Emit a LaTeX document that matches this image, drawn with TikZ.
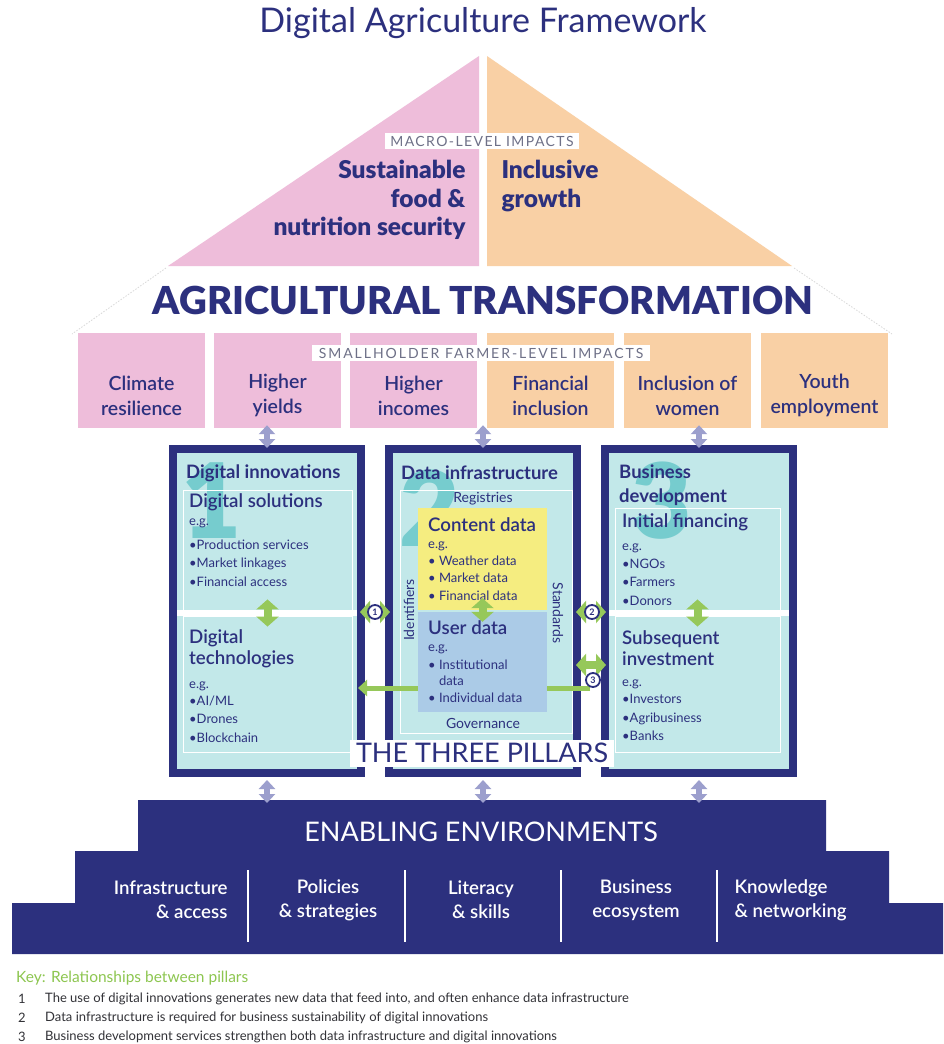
\documentclass[tikz,border=0pt]{standalone}
\usepackage{fontspec}
\setmainfont{Lato}
\newfontfamily\latoblack{Lato Black}
\newfontfamily\latosemi{Lato Semibold}
\usetikzlibrary{positioning, arrows.meta}

\definecolor{navy}{RGB}{44,48,126}
\definecolor{pinkroof}{RGB}{238,189,218}
\definecolor{peach}{RGB}{249,208,165}
\definecolor{pillarfill}{RGB}{194,232,233}
\definecolor{numeral}{RGB}{118,204,206}
\definecolor{contentyel}{RGB}{245,237,128}
\definecolor{userblue}{RGB}{171,203,231}
\definecolor{arrowgreen}{RGB}{150,200,90}
\definecolor{lavender}{RGB}{156,159,205}
\definecolor{keygreen}{RGB}{141,198,80}
\definecolor{labelgray}{RGB}{110,112,135}
\definecolor{keygray}{RGB}{50,50,55}

\newcommand\fsz[2]{\fontsize{#1}{#2}\selectfont}

\begin{document}
\begin{tikzpicture}[x=1pt, y=-1pt,
  impact/.style={minimum width=127, minimum height=95, inner sep=0},
  impacttxt/.style={align=center, text=navy, font=\latosemi\fsz{19.5}{25}},
  pillar/.style={draw=navy, line width=8pt, fill=pillarfill, minimum width=188, minimum height=324, inner sep=0},
  panel/.style={draw=white, line width=0.9pt, inner sep=0},
  numbig/.style={text=numeral, font=\latoblack\fsz{104}{104}, inner sep=0},
  ptitle/.style={anchor=west, align=left, text=navy, font=\bfseries\fsz{18.5}{24}, inner sep=0},
  psub/.style={anchor=west, align=left, text=navy, font=\latosemi\fsz{18.7}{21}, inner sep=0},
  peg/.style={anchor=west, text=navy, font=\fsz{13}{15}, inner sep=0},
  plist/.style={anchor=west, align=left, text=navy, font=\fsz{13}{18.5}, inner sep=0},
  pside/.style={text=navy, font=\fsz{14}{16}, inner sep=0},
  envtxt/.style={align=center, text=white, font=\latosemi\fsz{18.7}{24}},
  keytxt/.style={anchor=west, text=keygray, font=\fsz{13}{14}, inner sep=0},
  lavarrow/.style={lavender, line width=6pt, {Triangle[length=9pt,width=16pt]}-{Triangle[length=9pt,width=16pt]}},
  greenarrow/.style={arrowgreen, line width=8pt, {Triangle[length=10pt,width=22pt]}-{Triangle[length=10pt,width=22pt]}},
  greenline/.style={arrowgreen, line width=5pt, -{Triangle[length=9pt,width=16pt]}},
  circnum/.style={circle, draw=navy, line width=1.8pt, fill=white, inner sep=0, minimum size=14, text=navy, font=\bfseries\fsz{9}{9}}]

\useasboundingbox[fill=white] (0,0) rectangle (943,1044);

\node[text=navy, font=\fsz{34}{38}] (title) at (483,23) {Digital Agriculture Framework};

\fill[pinkroof] (479,56) -- (168,266) -- (479,266) -- cycle;
\fill[peach] (487,56) -- (792,266) -- (487,266) -- cycle;
\draw[gray!30, line width=0.8pt, dash pattern=on 1.5pt off 1.5pt] (166,268) -- (72,334) (794,268) -- (892,334);

\node[fill=white, text=labelgray, font=\fsz{14}{16}\addfontfeature{LetterSpace=10}, inner xsep=5, inner ysep=3] (macrolabel) at (482,141) {MACRO-LEVEL IMPACTS};
\node[anchor=east, align=right, text=navy, font=\latoblack\fsz{24.5}{28.5}] (foodsec) at (469,200) {Sustainable\\food \&\\nutrition security};
\node[anchor=west, align=left, text=navy, font=\latoblack\fsz{24.5}{28.5}] (growth) at (498,186) {Inclusive\\growth};

\node[text=navy, font=\latoblack\fsz{38.5}{42}] (agtrans) at (483,300) {AGRICULTURAL TRANSFORMATION};

\foreach \nm/\xx/\col/\txt in {climate/141.5/pinkroof/{Climate\\resilience}, yields/277.5/pinkroof/{Higher\\yields}, incomes/413.5/pinkroof/{Higher\\incomes}, finance/550.5/peach/{Financial\\inclusion}, women/687.5/peach/{Inclusion of\\women}, youth/824.5/peach/{Youth\\employment}}{
  \node[impact, fill=\col] (\nm) at (\xx,380.5) {};
  \node[impacttxt] (\nm txt) at ([yshift=-15pt]\nm.center) {\txt};
}
\node[fill=white, text=labelgray, font=\fsz{14}{16}\addfontfeature{LetterSpace=14}, inner xsep=7, inner ysep=3] (farmlabel) at (481,353) {SMALLHOLDER FARMER-LEVEL IMPACTS};

\node[pillar] (p1) at (267,611) {};
\node[pillar] (p2) at (483,611) {};
\node[pillar] (p3) at (699,611) {};

\node[numbig] (num1) at (212,501) {1};
\node[numbig] (num2) at (430,508) {2};
\node[numbig] (num3) at (662,501) {3};

\fill[white] (177,610) rectangle (357,616);
\fill[white] (609,610) rectangle (789,616);
\node[panel, minimum width=169, minimum height=120] (solutions) at (267.5,550) {};
\node[panel, minimum width=169, minimum height=136] (techs) at (267.5,684) {};
\node[panel, minimum width=165, minimum height=102] (initial) at (697.5,559) {};
\node[panel, minimum width=165, minimum height=136] (invest) at (697.5,684) {};
\node[panel, minimum width=172, minimum height=243] (datapanel) at (486,611.5) {};

\coordinate (from3) at (590,688);
\coordinate (tip3) at (358,688);
\draw[greenline] (from3) -- (tip3);

\node[fill=contentyel, minimum width=129, minimum height=102, inner sep=0] (content) at (482.5,559) {};
\node[fill=userblue, minimum width=129, minimum height=100, inner sep=0] (user) at (482.5,662) {};

\node[ptitle] (innovtitle) at (186,473) {Digital innovations};
\node[psub] (soltitle) at (189,502) {Digital solutions};
\node[peg] (soleg) at (189,523) {e.g.};
\node[plist] (sollist) at (189,563) {•Production services\\•Market linkages\\•Financial access};
\node[psub] (techtitle) at (189,649) {Digital\\technologies};
\node[peg] (techeg) at (189,686) {e.g.};
\node[plist] (techlist) at (189,719) {•AI/ML\\•Drones\\•Blockchain};

\node[ptitle] (datatitle) at (401,473) {Data infrastructure};
\node[pside] (registries) at (483,499) {Registries};
\node[psub] (contenttitle) at (428,525) {Content data};
\node[peg] (contenteg) at (428,546) {e.g.};
\node[plist, font=\fsz{13}{17.5}] (contentlist) at (428,578) {• Weather data\\• Market data\\• Financial data};
\node[psub] (usertitle) at (428,628) {User data};
\node[peg] (usereg) at (428,649.5) {e.g.};
\node[plist, font=\fsz{13}{16.5}] (userlist) at (428,681) {• Institutional\\\phantom{• }data\\• Individual data};
\node[pside, rotate=90] (identifiers) at (409,610) {Identifiers};
\node[pside, rotate=-90] (standards) at (558,613) {Standards};
\node[pside] (governance) at (483,723) {Governance};

\node[ptitle] (bustitle) at (619,485) {Business\\development};
\node[psub] (inittitle) at (622,522) {Initial financing};
\node[peg] (initeg) at (622,548) {e.g.};
\node[plist] (initlist) at (622,582) {•NGOs\\•Farmers\\•Donors};
\node[psub] (investtitle) at (622,648) {Subsequent\\investment};
\node[peg] (investeg) at (622,684) {e.g.};
\node[plist] (investlist) at (622,717.5) {•Investors\\•Agribusiness\\•Banks};

\draw[greenarrow] ([yshift=11pt]solutions.south) -- ([yshift=-11pt]techs.north);
\draw[greenarrow] ([yshift=12pt]content.south) -- ([yshift=-10pt]user.north);
\draw[greenarrow] ([yshift=11pt]initial.south) -- ([yshift=-11pt]invest.north);

\coordinate (r1) at (375,612);
\coordinate (r2) at (592,612);
\coordinate (r3) at (592,665);
\draw[greenarrow] ([xshift=-5pt]p1.east |- r1) -- ([xshift=5pt]p2.west |- r1);
\draw[greenarrow] ([xshift=-5pt]p2.east |- r2) -- ([xshift=5pt]p3.west |- r2);
\draw[greenarrow] ([xshift=-5pt]p2.east |- r3) -- ([xshift=5pt]p3.west |- r3);
\node[circnum] (c1) at (r1) {1};
\node[circnum] (c2) at (r2) {2};
\node[circnum] (c3) at (593,680) {3};

\node[fill=white, text=navy, font=\fsz{27}{30}, minimum width=264, minimum height=27, inner sep=0] (pillarsname) at (482,753) {THE THREE PILLARS};

\fill[navy] (138,800) -- (826,800) -- (826,851) -- (889,851) -- (889,903) -- (943,903) -- (943,954) -- (12,954) -- (12,903) -- (75,903) -- (75,851) -- (138,851) -- cycle;
\coordinate (basetop) at (483,803);
\node[text=white, font=\fsz{27}{30}] (env) at (481,832) {ENABLING ENVIRONMENTS};
\node[envtxt, anchor=east, align=right] (infra) at (231,900) {Infrastructure\\\& access};
\node[envtxt] (policies) at (328,900) {Policies\\\& strategies};
\node[envtxt] (literacy) at (481,900) {Literacy\\\& skills};
\node[envtxt] (business) at (636,900) {Business\\ecosystem};
\node[envtxt, anchor=west, align=left] (knowledge) at (731,900) {Knowledge\\\& networking};
\foreach \xx in {248,405,561,717}
  \draw[white, line width=1.2pt] (\xx,870) -- (\xx,942);

\draw[lavarrow] ([yshift=3pt]p1.north |- yields.south) -- ([yshift=-3pt]p1.north);
\draw[lavarrow] ([yshift=3pt]p2.north |- incomes.south) -- ([yshift=-3pt]p2.north);
\draw[lavarrow] ([yshift=3pt]p3.north |- women.south) -- ([yshift=-3pt]p3.north);
\draw[lavarrow] ([yshift=-3pt]p1.south) -- (p1.south |- basetop);
\draw[lavarrow] ([yshift=-3pt]p2.south) -- (p2.south |- basetop);
\draw[lavarrow] ([yshift=-3pt]p3.south) -- (p3.south |- basetop);

\node[anchor=west, text=keygreen, font=\fsz{15.5}{17}, inner sep=0] (keytitle) at (16,978) {Key: Relationships between pillars};
\foreach \n/\yy/\txt in {1/999/{The use of digital innovations generates new data that feed into, and often enhance data infrastructure}, 2/1018/{Data infrastructure is required for business sustainability of digital innovations}, 3/1037/{Business development services strengthen both data infrastructure and digital innovations}}{
  \node[keytxt] (keynum\n) at (18,\yy) {\n};
  \node[keytxt] (keyline\n) at (45,\yy) {\txt};
}
\end{tikzpicture}
\end{document}
